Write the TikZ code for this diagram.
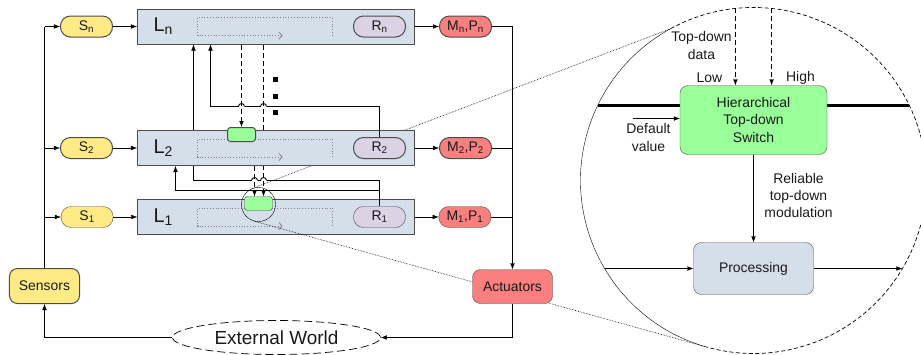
\documentclass[tikz,border=0pt]{standalone}
\usepackage{fontspec}
\setmainfont{Liberation Sans}
\usetikzlibrary{shapes.geometric,arrows.meta,positioning}

\definecolor{layerblue}{RGB}{213,223,234}
\definecolor{sensyellow}{RGB}{255,235,133}
\definecolor{actred}{RGB}{250,127,127}
\definecolor{resgray}{RGB}{219,211,228}
\definecolor{switchgreen}{RGB}{153,255,153}

\pgfdeclarelayer{lower}
\pgfdeclarelayer{wires}
\pgfsetlayers{lower,wires,main}

\begin{document}
\begin{tikzpicture}
     [x=1bp, y=-1bp, >={Latex[length=6bp,width=4.5bp]}, line width=1bp,
       every node/.style={font=\fontsize{14}{17.5}\selectfont, text=black!90},
       layerbox/.style={draw=black!70, fill=layerblue, text width=245bp, inner xsep=16bp,
         minimum height=35bp, align=left, font=\fontsize{20}{24}\selectfont},
       pill/.style={draw=black!70, rounded corners=10bp, minimum width=52bp, minimum height=21bp, inner sep=0pt},
       sens/.style={pill, fill=sensyellow},
       res/.style={pill, fill=resgray},
       mot/.style={pill, fill=actred},
       rbox/.style={draw=black!70, rounded corners=8bp, inner sep=0pt, align=center},
       switch/.style={draw=black!70, fill=switchgreen, rounded corners=3bp, minimum width=28bp,
         minimum height=14bp, inner sep=0pt},
       flow/.style={dotted, gray, line width=0.8bp, -{Straight Barb[length=3bp,width=7bp]}},
       topdown/.style={dash pattern=on 5bp off 3bp, ->},
       hop/.style={line width=0.9bp},
       zoomline/.style={densely dotted, line width=0.6bp},
       dotsq/.style={fill, minimum size=5.5bp, inner sep=0pt}]
   \useasboundingbox (-0.5,-0.5) rectangle (920.5,353.5);
   % world and the sensing loop
   \node (Sensors) [rbox, fill=sensyellow, minimum width=70bp, minimum height=35bp] at (44,285.5) {Sensors};
   \node (World) [ellipse, draw, line width=0.7bp, dash pattern=on 8bp off 4bp, minimum width=208bp,
     minimum height=34bp, inner sep=0pt, font=\fontsize{19}{22}\selectfont] at (276,337) {External World};
   % top layer
   \node (Ln) [layerbox] at (275.5,26) {L\textsubscript{n}};
   \draw[flow] ([shift={(56.5,9)}]Ln.center) -- ++(0,-18) -- ++(-135,0) -- ++(0,18) -- ++(85,0);
   \node (Rn) [res, left=9bp of Ln.east] {R\textsubscript{n}};
   \node (Sn) [sens, left=24bp of Ln] {S\textsubscript{n}};
   \node (Mn) [mot, right=24bp of Ln] {M\textsubscript{n},P\textsubscript{n}};
   % middle layer
   \node (L2) [layerbox] at (275.5,147.5) {L\textsubscript{2}};
   \draw[flow] ([shift={(56.5,9)}]L2.center) -- ++(0,-18) -- ++(-135,0) -- ++(0,18) -- ++(85,0);
   \node (R2) [res, left=9bp of L2.east] {R\textsubscript{2}};
   \node (S2) [sens, left=24bp of L2] {S\textsubscript{2}};
   \node (M2) [mot, right=24bp of L2] {M\textsubscript{2},P\textsubscript{2}};
   \node (sw2) [switch] at (241,134) {};
   % bottom layer, kept under the wires
   \begin{pgfonlayer}{lower}
   \node (L1) [layerbox] at (275.5,216.5) {L\textsubscript{1}};
   \draw[flow] ([shift={(56.5,9)}]L1.center) -- ++(0,-18) -- ++(-135,0) -- ++(0,18) -- ++(85,0);
   \node (R1) [res, left=9bp of L1.east] {R\textsubscript{1}};
   \node (S1) [sens, left=24bp of L1] {S\textsubscript{1}};
   \node (M1) [mot, right=24bp of L1] {M\textsubscript{1},P\textsubscript{1}};
   \node (sw1) [switch] at (258,203) {};
   \node (mag) [circle, draw, minimum size=34bp, inner sep=0pt] at (258,204) {};
   \end{pgfonlayer}
   \path (sw1.north) ++(5,0) coordinate (sw1r) ++(-9,0) coordinate (sw1l);
   \coordinate (zc) at (753,180);
   \path (zc) ++(241.4:173) coordinate (zt) (zc) ++(105.9:173) coordinate (zb);
   % lens lines and wires running behind L2
   \begin{pgfonlayer}{wires}
   \draw[zoomline] (mag.111) -- (zt);
   \draw[zoomline] (mag.-106) -- (zb);
   \draw[->] (R1.north) |- (175,190) -- (L2.south -| 175,0);
   \draw (R1.north) |- (266,180);
   \draw (260,180) -- (257,180);
   \draw[->] (251,180) -- (193,180) -- (Ln.south -| 193,0);
   \draw[hop] (266,180) arc[start angle=0, end angle=180, radius=3bp];
   \draw[hop] (257,180) arc[start angle=0, end angle=180, radius=3bp];
   \draw[topdown] (Ln.south -| sw1r) -- (sw1r);
   \end{pgfonlayer}
   \draw[topdown] (L2.south -| sw1l) -- (sw1l);
   \draw[topdown] (Ln.south -| sw2.north) -- (sw2.north);
   % R2 goes up to Ln, hopping over the dashed lines
   \draw (R2.north) |- (266,106);
   \draw (260,106) -- (244,106);
   \draw[->] (238,106) -- (210,106) -- (Ln.south -| 210,0);
   \draw[hop] (266,106) arc[start angle=0, end angle=180, radius=3bp];
   \draw[hop] (244,106) arc[start angle=0, end angle=180, radius=3bp];
   \foreach \y [count=\k] in {79,96,112}
     \node (dot\k) [dotsq] at (275,\y) {};
   \node (Actuators) [rbox, fill=actred, minimum width=80bp, minimum height=34bp] at (512,286) {Actuators};
   % sensors to layers to actuators
   \draw (Sensors.north) -- (Sensors.north |- Sn.west);
   \foreach \i in {n,2,1} {
     \draw[->] (Sensors.north |- S\i.west) -- (S\i.west);
     \draw[->] (S\i) -- (L\i);
     \draw[->] (L\i) -- (M\i);
   }
   \draw[->] (Mn.east) -| (Actuators.north);
   \draw (M2.east) -- (M2.east -| Actuators.north);
   \draw (M1.east) -- (M1.east -| Actuators.north);
   \draw[->] (Actuators.south) |- (World.east);
   \draw[->] (World.west) -| (Sensors.south);
   % the switch under the lens
   \draw (zc) ++(105.9:173) arc[start angle=105.9, end angle=241.4, radius=173];
   \draw[dash pattern=on 4bp off 2.5bp, line width=0.7bp] (zc) ++(241.4:173)
     arc[start angle=241.4, end angle=465.9, radius=173];
   \path (zc) ++(205.7:173) coordinate (hl) (zc) ++(-25.7:173) coordinate (hr);
   \draw[line width=2.4bp] (hl) -- (hr);
   \node (HTS) [rbox, fill=switchgreen, minimum width=147bp, minimum height=69bp] at (753,119.5)
     {Hierarchical\\Top-down\\Switch};
   \path (zc) ++(-96:173) coordinate (tdl) (zc) ++(-84:173) coordinate (tdh);
   \draw[topdown] (tdl) -- (tdl |- HTS.north);
   \draw[topdown] (tdh) -- (tdh |- HTS.north);
   \node (tdtext) [align=center] at (701,45) {Top-down\\data};
   \node (low) at (709,77) {Low};
   \node (high) at (800,77) {High};
   \coordinate (dv) at (632,118);
   \draw[->] (dv) -- (dv -| HTS.west);
   \node (dvtext) [align=center] at (648,137) {Default\\value};
   \node (Proc) [rbox, fill=layerblue, minimum width=120bp, minimum height=52bp] at (753,268) {Processing};
   \draw[->] (HTS) -- (Proc);
   \node (modtext) [align=center] at (798,195) {Reliable\\top-down\\modulation};
   \path (zc) ++(149.4:173) coordinate (pin) (zc) ++(30.6:173) coordinate (pout);
   \draw[->] (pin |- Proc.west) -- (Proc.west);
   \draw[->] (Proc.east) -- (Proc.east -| pout);
\end{tikzpicture}
\end{document}
